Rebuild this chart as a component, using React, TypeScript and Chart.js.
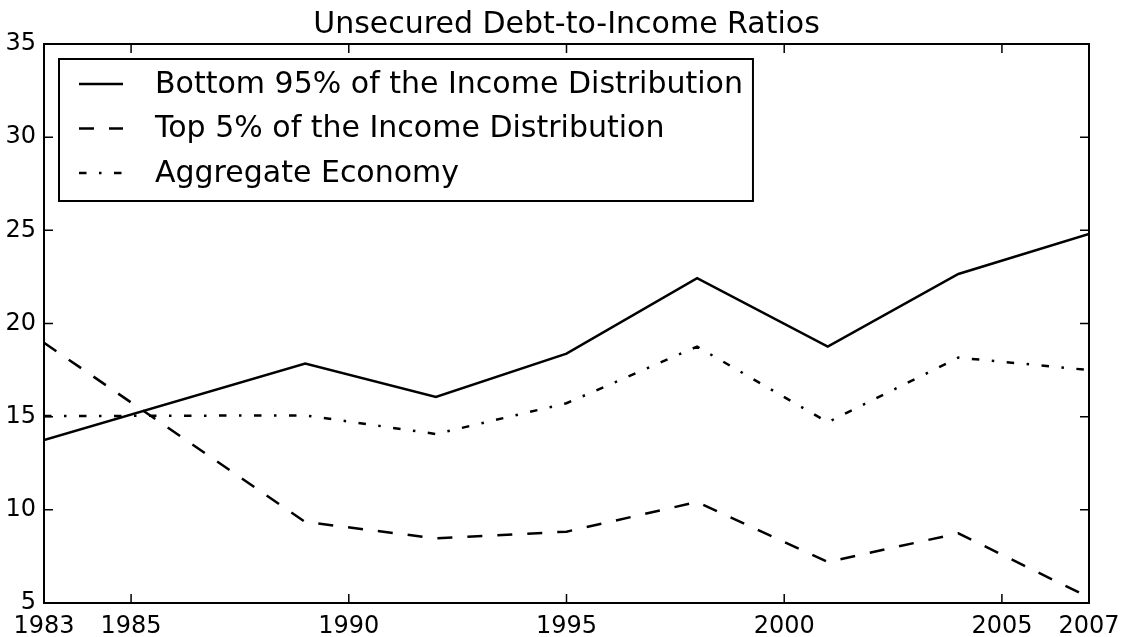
import React, { useEffect, useRef } from "react";
import { Chart, registerables } from "chart.js";

Chart.register(...registerables);

// Survey years and unsecured debt-to-income ratios (percent)
const years = [1983, 1989, 1992, 1995, 1998, 2001, 2004, 2007];
const bottom95 = [13.75, 17.85, 16.06, 18.38, 22.43, 18.76, 22.66, 24.8];
const top5 = [18.97, 9.35, 8.47, 8.83, 10.42, 7.2, 8.74, 5.3];
const aggregate = [15.03, 15.07, 14.07, 15.72, 18.76, 14.7, 18.17, 17.5];

const xTicks = [1983, 1985, 1990, 1995, 2000, 2005, 2007];
const yMin = 5;
const yMax = 35;
const yStep = 5;

const titleText = "Unsecured Debt-to-Income Ratios";
const seriesLabels = [
  "Bottom 95% of the Income Distribution",
  "Top 5% of the Income Distribution",
  "Aggregate Economy",
];

const FONT = "'DejaVu Sans', 'Liberation Sans', sans-serif";
const W = 1136;
const H = 637;

const toPoints = (vals: number[]) => years.map((x, i) => ({ x, y: vals[i] }));

// Frame with inward ticks on all four sides, the title, and a boxed legend
const framePlugin = {
  id: "frameAndLegend",
  afterDraw(chart: any) {
    const { ctx, chartArea } = chart;
    const { left, right, top, bottom } = chartArea;
    const xs = chart.scales.x;
    const ys = chart.scales.y;
    const tickLen = 9;

    ctx.save();
    ctx.strokeStyle = "#000";
    ctx.lineCap = "butt";
    ctx.setLineDash([]);

    // tick marks
    ctx.lineWidth = 1.5;
    ctx.beginPath();
    xs.ticks.forEach((t: any) => {
      const px = xs.getPixelForValue(t.value);
      ctx.moveTo(px, bottom);
      ctx.lineTo(px, bottom - tickLen);
      ctx.moveTo(px, top);
      ctx.lineTo(px, top + tickLen);
    });
    ys.ticks.forEach((t: any) => {
      const py = ys.getPixelForValue(t.value);
      ctx.moveTo(left, py);
      ctx.lineTo(left + tickLen, py);
      ctx.moveTo(right, py);
      ctx.lineTo(right - tickLen, py);
    });
    ctx.stroke();

    // axes frame
    ctx.lineWidth = 2;
    ctx.strokeRect(left, top, right - left, bottom - top);

    // title
    ctx.fillStyle = "#000";
    ctx.font = `30px ${FONT}`;
    ctx.textAlign = "center";
    ctx.textBaseline = "alphabetic";
    ctx.fillText(titleText, (left + right) / 2, 33);

    // legend
    const lx = 59;
    const ly = 59;
    const rowH = 44.5;
    const sampleX0 = 79;
    const sampleX1 = 123;
    const textX = 155;
    ctx.font = `30px ${FONT}`;
    const items = chart.data.datasets;
    let maxW = 0;
    items.forEach((ds: any) => {
      maxW = Math.max(maxW, ctx.measureText(ds.label).width);
    });
    const boxW = textX + maxW + 10 - lx;
    const boxH = 142;
    ctx.fillStyle = "#fff";
    ctx.fillRect(lx, ly, boxW, boxH);
    ctx.lineWidth = 2;
    ctx.strokeStyle = "#000";
    ctx.strokeRect(lx, ly, boxW, boxH);

    items.forEach((ds: any, i: number) => {
      const cy = ly + 25 + i * rowH;
      ctx.beginPath();
      ctx.lineWidth = ds.borderWidth;
      ctx.strokeStyle = ds.borderColor;
      ctx.setLineDash(ds.borderDash || []);
      ctx.lineDashOffset = 0;
      ctx.moveTo(sampleX0, cy);
      ctx.lineTo(sampleX1, cy);
      ctx.stroke();
      ctx.setLineDash([]);
      ctx.fillStyle = "#000";
      ctx.textAlign = "left";
      ctx.textBaseline = "middle";
      ctx.fillText(ds.label, textX, cy + 1);
    });

    ctx.restore();
  },
};

export default function App() {
  const canvasRef = useRef<HTMLCanvasElement | null>(null);

  useEffect(() => {
    const canvas = canvasRef.current;
    if (!canvas) return;

    const line = (label: string, vals: number[], dash: number[]) => ({
      label,
      data: toPoints(vals),
      borderColor: "#000",
      backgroundColor: "#000",
      borderWidth: 2.5,
      borderDash: dash,
      borderCapStyle: "butt",
      borderJoinStyle: "miter",
      pointRadius: 0,
      pointHoverRadius: 0,
      fill: false,
      tension: 0,
    });

    const chart = new Chart(canvas, {
      type: "line",
      data: {
        datasets: [
          line(seriesLabels[0], bottom95, []),
          line(seriesLabels[1], top5, [15, 15]),
          line(seriesLabels[2], aggregate, [7.5, 12.5, 2.5, 12.5]),
        ] as any,
      },
      options: {
        responsive: false,
        animation: false,
        devicePixelRatio: 1,
        layout: { padding: { top: 44, right: 47, left: 0, bottom: 0 } },
        plugins: {
          legend: { display: false },
          title: { display: false },
          tooltip: { enabled: false },
        },
        scales: {
          x: {
            type: "linear",
            min: xTicks[0],
            max: xTicks[xTicks.length - 1],
            afterBuildTicks: (scale: any) => {
              scale.ticks = xTicks.map((v) => ({ value: v }));
            },
            afterFit: (scale: any) => {
              scale.height = 34;
            },
            grid: { display: false, drawTicks: false },
            border: { display: false },
            ticks: {
              autoSkip: false,
              maxRotation: 0,
              padding: 9,
              color: "#000",
              font: { family: FONT, size: 24 },
              callback: (v: any) => String(v),
            },
          },
          y: {
            type: "linear",
            min: yMin,
            max: yMax,
            afterFit: (scale: any) => {
              scale.width = 44;
            },
            grid: { display: false, drawTicks: false },
            border: { display: false },
            ticks: {
              stepSize: yStep,
              padding: 8,
              color: "#000",
              font: { family: FONT, size: 24 },
              callback: (v: any) => String(v),
            },
          },
        },
      } as any,
      plugins: [framePlugin],
    });

    return () => chart.destroy();
  }, []);

  return (
    <canvas
      ref={canvasRef}
      width={W}
      height={H}
      style={{ position: "absolute", left: 0, top: 0, width: W, height: H, display: "block", background: "#fff" }}
    />
  );
}
